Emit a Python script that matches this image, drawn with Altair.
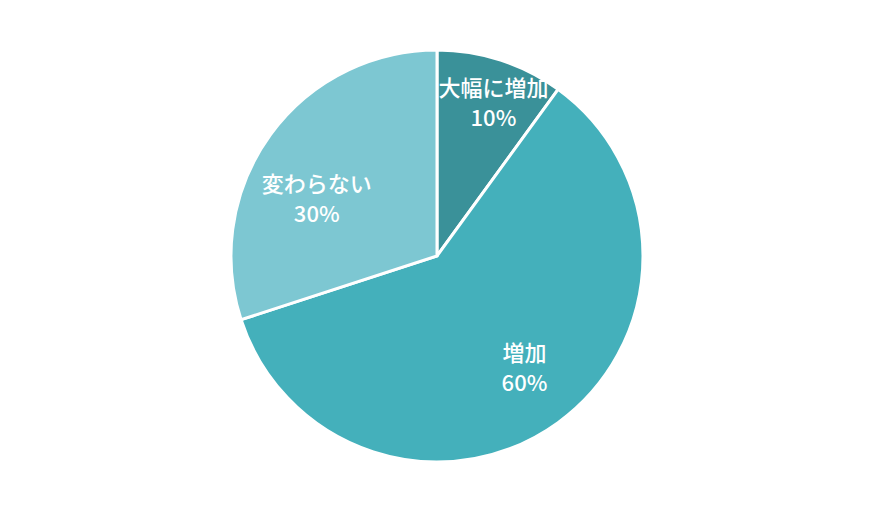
import altair as alt
import pandas as pd

categories = ["大幅に増加", "増加", "変わらない"]
values = [10, 60, 30]
colors = ["#3a9199", "#44b0bb", "#7dc7d2"]

df = pd.DataFrame({
    "cat": categories,
    "val": values,
    "ord": list(range(len(categories))),
})
df["pct"] = [f"{v}%" for v in values]

pie = alt.Chart(df).mark_arc(outerRadius=206, stroke="white", strokeWidth=3).encode(
    theta=alt.Theta("val:Q", stack=True),
    order=alt.Order("ord:Q"),
    color=alt.Color("cat:N", scale=alt.Scale(domain=categories, range=colors), legend=None),
)

label_base = alt.Chart(df).transform_window(
    cum="sum(val)", sort=[alt.SortField("ord")], frame=[None, 0]
).transform_joinaggregate(
    total="sum(val)"
).transform_calculate(
    mid="(datum.cum - datum.val / 2) / datum.total * 2 * PI"
)

label_cfg = {
    "大幅に増加": dict(radius=173, dx=3, dy=-3),
    "増加": dict(radius=142, dx=4, dy=-18),
    "変わらない": dict(radius=140, dx=-7, dy=10),
}

layers = [pie]
for c in categories:
    cfg = label_cfg[c]
    for field, off in (("cat", 1), ("pct", 31)):
        layers.append(
            label_base.transform_filter(alt.datum.cat == c).mark_text(
                radius=cfg["radius"], dx=cfg["dx"], dy=cfg["dy"] + off,
                fill="white", fontSize=22, fontWeight=500, font="Noto Sans CJK JP",
                baseline="middle", align="center",
            ).encode(
                theta=alt.Theta("mid:Q", scale=None),
                text=alt.Text(f"{field}:N"),
            )
        )

chart = alt.layer(*layers).resolve_scale(theta="independent").properties(
    width=858, height=496,
    autosize=alt.AutoSizeParams(type="fit", contains="padding"),
).configure_view(stroke=None)

chart.save("out.html", embed_options={"renderer": "svg", "actions": False})
